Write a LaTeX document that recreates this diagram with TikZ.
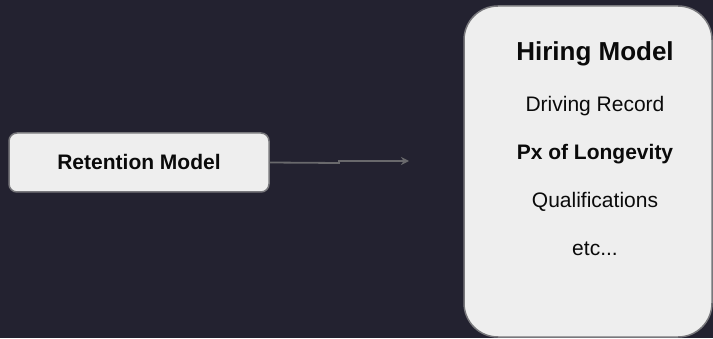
\documentclass[tikz,border=0pt]{standalone}
\usepackage{fontspec}
\setmainfont{Liberation Sans}
\usetikzlibrary{arrows.meta}
\definecolor{bgdark}{RGB}{35,34,48}
\definecolor{boxfill}{RGB}{238,238,238}
\definecolor{boxline}{RGB}{120,120,124}
\definecolor{arrowgray}{RGB}{105,105,108}
\definecolor{txt}{RGB}{10,10,10}
\tikzset{
  x=1pt,y=1pt,
  modelbox/.style={draw=boxline, line width=1.5pt, fill=boxfill},
  itemtext/.style={font=\fontsize{21}{25}\selectfont, text=txt, inner sep=0pt, anchor=base},
  boldtext/.style={itemtext, font=\fontsize{21}{25}\selectfont\bfseries},
  titletext/.style={itemtext, font=\fontsize{26}{30}\selectfont\bfseries},
  connector/.style={draw=arrowgray, line width=1.8pt, -{Stealth[length=8pt,width=8pt]}}
}
\begin{document}
\begin{tikzpicture}
\fill[bgdark] (0,0) rectangle (713,338);
\useasboundingbox (0,0) rectangle (713,338);
% Retention model box
\node[modelbox, rounded corners=8pt, minimum width=260pt, minimum height=59pt, inner sep=0pt] (ret) at (139,175.5) {};
\node[boldtext] (rettext) at (139,168) {Retention Model};
% Hiring model box
\node[modelbox, rounded corners=34pt, minimum width=248pt, minimum height=331pt, inner sep=0pt] (hire) at (588,166.5) {};
\node[titletext] (htitle) at (595,277) {Hiring Model};
\node[itemtext] (hdrive) at (595,226.5) {Driving Record};
\node[boldtext] (hpx) at (595,178.5) {Px of Longevity};
\node[itemtext] (hqual) at (595,130.5) {Qualifications};
\node[itemtext] (hetc) at (595,83) {etc...};
% connector
\coordinate (bend1) at (339,175);
\coordinate (bend2) at (339,177);
\coordinate (tip) at (409,177);
\draw[connector] (ret.east) -- (bend1) -- (bend2) -- (tip);
\end{tikzpicture}
\end{document}
